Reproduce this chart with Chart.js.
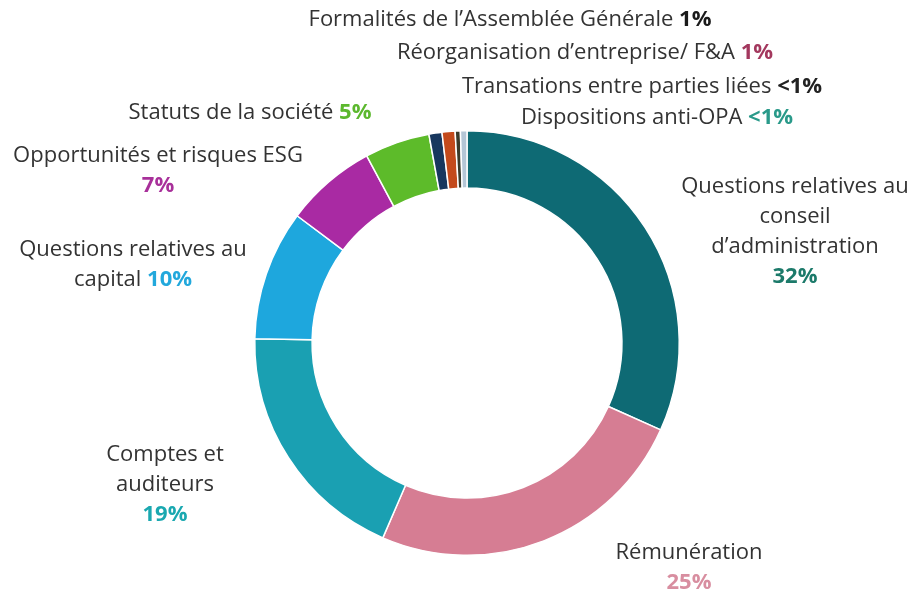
<!DOCTYPE html>
<html>
<head>
<meta charset="utf-8">
<script src="https://cdn.jsdelivr.net/npm/chart.js@4"></script>
<style>
  html, body { margin: 0; padding: 0; background: #ffffff; }
  #wrap { width: 913px; height: 593px; position: relative; }
</style>
</head>
<body>
<div id="wrap"><canvas id="c"></canvas></div>
<script>
// ---- Data ----
const categories = [
  "Questions relatives au conseil d’administration",
  "Rémunération",
  "Comptes et auditeurs",
  "Questions relatives au capital",
  "Opportunités et risques ESG",
  "Statuts de la société",
  "Formalités de l’Assemblée Générale",
  "Réorganisation d’entreprise/ F&A",
  "Transations entre parties liées",
  "Dispositions anti-OPA"
];
const shares = [32, 25, 19, 10, 7, 5, 1, 1, 0.4, 0.5];
const shareLabels = ["32%", "25%", "19%", "10%", "7%", "5%", "1%", "1%", "<1%", "<1%"];

// ---- Styles ----
const sliceColors = ["#0e6a74", "#d67d93", "#1aa0b2", "#1ea7dd", "#a92aa3", "#5dbb2a", "#17375e", "#c34a1c", "#3a3a2a", "#b4c6d6"];
const pctColors = ["#1c7a6a", "#d88ea0", "#1aa8b0", "#22a8dc", "#a8309a", "#5cb82e", "#1a1a1a", "#a3385e", "#222222", "#2a9a8a"];

// label layout: lines of text (split of category), offset from doughnut center, pct placement
const labelLayout = [
  { lines: ["Questions relatives au", "conseil", "d’administration"], pctOwnLine: true, dx: 328, dy: -156 },
  { lines: ["Rémunération"], pctOwnLine: true, dx: 222, dy: 210 },
  { lines: ["Comptes et", "auditeurs"], pctOwnLine: true, dx: -302, dy: 112 },
  { lines: ["Questions relatives au", "capital"], pctOwnLine: false, dx: -334, dy: -93 },
  { lines: ["Opportunités et risques ESG"], pctOwnLine: true, dx: -309, dy: -187 },
  { lines: ["Statuts de la société"], pctOwnLine: false, dx: -217, dy: -230 },
  { lines: ["Formalités de l’Assemblée Générale"], pctOwnLine: false, dx: 43, dy: -323 },
  { lines: ["Réorganisation d’entreprise/ F&A"], pctOwnLine: false, dx: 118, dy: -290 },
  { lines: ["Transations entre parties liées"], pctOwnLine: false, dx: 175, dy: -256 },
  { lines: ["Dispositions anti-OPA"], pctOwnLine: false, dx: 190, dy: -225 }
];

const FONT_FAMILY = "'Open Sans', 'Noto Sans', sans-serif";
const FONT_SIZE = 22;
const LINE_H = 30;
const TEXT_COLOR = "#333333";

const labelPlugin = {
  id: 'sliceLabels',
  afterDraw(chart) {
    const meta = chart.getDatasetMeta(0);
    const arc0 = meta.data[0];
    const cx = arc0.x, cy = arc0.y;
    const ctx = chart.ctx;
    ctx.save();
    ctx.textBaseline = 'middle';
    ctx.textAlign = 'left';
    const normal = `${FONT_SIZE}px ${FONT_FAMILY}`;
    const bold = `bold ${FONT_SIZE}px ${FONT_FAMILY}`;
    labelLayout.forEach((lay, i) => {
      const x = cx + lay.dx;
      let y = cy + lay.dy;
      const rows = lay.lines.map(t => [[t, TEXT_COLOR, normal]]);
      if (lay.pctOwnLine) {
        rows.push([[shareLabels[i], pctColors[i], bold]]);
      } else {
        const last = rows[rows.length - 1];
        last[0][0] = last[0][0] + " ";
        last.push([shareLabels[i], pctColors[i], bold]);
      }
      rows.forEach(parts => {
        let total = 0;
        parts.forEach(p => { ctx.font = p[2]; total += ctx.measureText(p[0]).width; });
        let sx = x - total / 2;
        parts.forEach(p => {
          ctx.font = p[2];
          ctx.fillStyle = p[1];
          ctx.fillText(p[0], sx, y);
          sx += ctx.measureText(p[0]).width;
        });
        y += LINE_H;
      });
    });
    ctx.restore();
  }
};

new Chart(document.getElementById('c'), {
  type: 'doughnut',
  data: {
    labels: categories,
    datasets: [{
      data: shares,
      backgroundColor: sliceColors,
      borderColor: '#ffffff',
      borderWidth: 1.5,
      hoverBorderWidth: 0,
      hoverOffset: 0
    }]
  },
  options: {
    responsive: true,
    maintainAspectRatio: false,
    animation: false,
    devicePixelRatio: 1,
    cutout: '73%',
    rotation: 0,
    layout: { padding: { top: 130, bottom: 37, left: 254, right: 233 } },
    plugins: {
      legend: { display: false },
      tooltip: { enabled: false },
      title: { display: false }
    },
    events: []
  },
  plugins: [labelPlugin]
});
</script>
</body>
</html>
